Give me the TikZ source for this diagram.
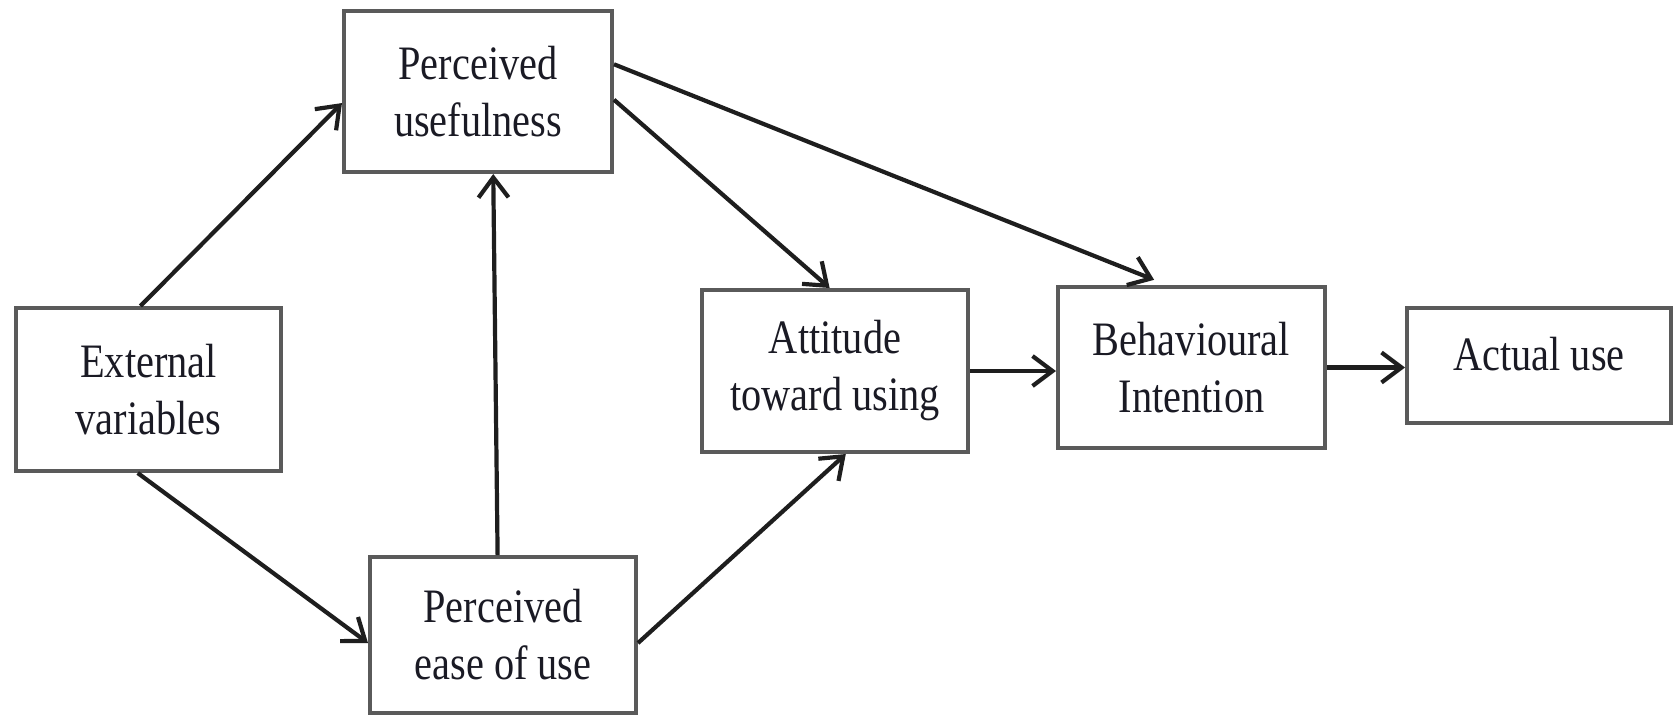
\documentclass[tikz,border=0pt]{standalone}
\usepackage{fontspec}
\setmainfont{Liberation Serif}[FakeStretch=0.84]
\usetikzlibrary{arrows.meta,calc}
\definecolor{boxgray}{HTML}{5A5A5A}
\definecolor{linec}{HTML}{1E1E1E}
\definecolor{textc}{HTML}{1A1A24}
\tikzset{
  tambox/.style={draw=boxgray, line width=2pt, align=center, inner sep=0pt,
    text=textc, font=\fontsize{24}{28.5}\selectfont},
  conn/.style={draw=linec, line width=2.1pt, -{Straight Barb[length=10pt,width=15pt]}}
}
\begin{document}
\begin{tikzpicture}[x=0.5pt,y=-0.5pt]
\useasboundingbox (0,0) rectangle (1673,714);
\node[tambox, minimum width=134pt, minimum height=80.5pt] (pu) at (478,91.5) {Perceived\\usefulness};
\node[tambox, minimum width=132.5pt, minimum height=81.5pt] (ext) at (148.5,389.5) {External\\variables};
\node[tambox, minimum width=133pt, minimum height=78pt] (peou) at (503,635) {Perceived\\ease of use};
\node[tambox, minimum width=133pt, minimum height=81pt] (att) at (835,371) {Attitude\\toward using};
\node[tambox, minimum width=133.5pt, minimum height=80.5pt] (bi) at (1191.5,367.5) {Behavioural\\Intention};
\node[tambox, minimum width=132pt, minimum height=57.5pt] (au) at (1539,365.5) {\raisebox{12pt}{Actual use}};

\draw[conn] ($(ext.north west)!0.47!(ext.north east)$) -- ($(pu.north west)!0.57!(pu.south west)$);
\draw[conn] ($(ext.south west)!0.46!(ext.south east)$) -- ($(peou.north west)!0.55!(peou.south west)$);
\draw[conn] ($(peou.north west)!0.48!(peou.north east)$) -- ($(pu.south west)!0.556!(pu.south east)$);
\draw[conn] ($(peou.north east)!0.55!(peou.south east)$) -- ($(att.south west)!0.54!(att.south east)$);
\draw[conn] ($(pu.north east)!0.55!(pu.south east)$) -- ($(att.north west)!0.48!(att.north east)$);
\draw[conn, shorten >=7pt] ($(pu.north east)!0.335!(pu.south east)$) -- ($(bi.north west)!0.41!(bi.north east)$);
\draw[conn] (att.east) -- (att.east -| bi.west);
\draw[conn] (bi.east) -- (bi.east -| au.west);
\end{tikzpicture}
\end{document}
